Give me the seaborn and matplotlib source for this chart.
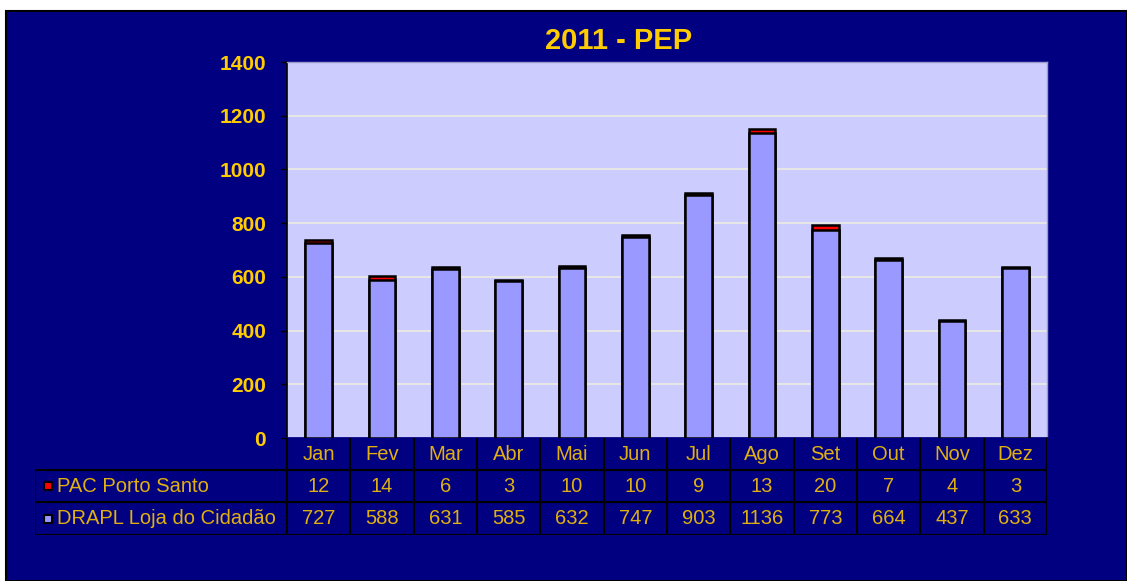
import numpy as np
import pandas as pd
import matplotlib
matplotlib.use("Agg")
import matplotlib.pyplot as plt
import seaborn as sns
from matplotlib.patches import Rectangle

months = ["Jan", "Fev", "Mar", "Abr", "Mai", "Jun", "Jul", "Ago", "Set", "Out", "Nov", "Dez"]
pac_porto_santo = [12, 14, 6, 3, 10, 10, 9, 13, 20, 7, 4, 3]
drapl_loja = [727, 588, 631, 585, 632, 747, 903, 1136, 773, 664, 437, 633]
series_names = ["PAC Porto Santo", "DRAPL Loja do Cidadão"]
title = "2011 - PEP"

NAVY = "#000080"
GOLD = "#FFCC00"
TXT = "#E0B010"
PLOT_BG = "#CCCCFF"
BAR = "#9999FF"
RED = "#FF0000"

sns.set_theme(style="white")
plt.rcParams["font.family"] = ["Liberation Sans", "DejaVu Sans"]

W, H = 1127, 581
fig = plt.figure(figsize=(W / 100, H / 100), dpi=100, facecolor="white")
bg = Rectangle((6 / W, 0), 1 - 6 / W, 1 - 11 / H, transform=fig.transFigure,
               facecolor=NAVY, edgecolor="black", linewidth=1.5, zorder=-10)
fig.patches.append(bg)

ax = fig.add_axes([287 / W, (H - 438) / H, 760 / W, 376 / H])
ax.set_facecolor(PLOT_BG)

df = pd.DataFrame({"month": months, "pac": pac_porto_santo, "drapl": drapl_loja})
df["total"] = df["pac"] + df["drapl"]

sns.barplot(data=df, x="month", y="total", color=RED, saturation=1, width=0.42,
            edgecolor="black", linewidth=1.8, ax=ax, zorder=3)
sns.barplot(data=df, x="month", y="drapl", color=BAR, saturation=1, width=0.42,
            edgecolor="black", linewidth=1.8, ax=ax, zorder=4)

ax.set_xlim(-0.5, len(months) - 0.5)
ax.set_ylim(0, 1400)
ax.set_yticks(np.arange(0, 1401, 200))
ax.yaxis.grid(True, color="#E6E6E6", linewidth=1.5, zorder=0)
ax.set_axisbelow(True)
ax.set_xlabel("")
ax.set_ylabel("")
ax.set_xticks([])
ax.tick_params(axis="y", colors="black", labelcolor=GOLD, labelsize=15, length=4,
               width=1, direction="out", left=True, pad=11)
for lab in ax.get_yticklabels():
    lab.set_fontweight("bold")
for s in ["top", "right"]:
    ax.spines[s].set_color("#9A9ACC")
    ax.spines[s].set_linewidth(1)
ax.spines["left"].set_color("black")
ax.spines["left"].set_linewidth(1.2)
ax.spines["bottom"].set_color(NAVY)
ax.spines["bottom"].set_linewidth(2)

fig.text(619 / W, (H - 41) / H, title, color=GOLD, fontsize=21,
         fontweight="bold", ha="center", va="center")

# data table
label_w = (287 - 35) / (760 / 12)
tax = fig.add_axes([35 / W, (H - 535) / H, 1012 / W, 97 / H])
tax.set_xlim(-0.5 - label_w, len(months) - 0.5)
tax.set_ylim(3, 0)
tax.axis("off")
tax.patch.set_alpha(0)
lc = "black"
lw = 1.5
x0 = -0.5 - label_w
xe = len(months) - 0.5
row_h = [0, 32 / 97 * 3, 64 / 97 * 3, 3]
for y in row_h[1:]:
    tax.plot([x0, xe], [y, y], color=lc, lw=lw, solid_capstyle="butt")
tax.plot([x0, x0], [row_h[1], 3], color=lc, lw=lw)
for i in range(len(months) + 1):
    tax.plot([i - 0.5, i - 0.5], [0, 3], color=lc, lw=lw)

fs = 14.5
px = 760 / 12
for i, m in enumerate(months):
    tax.text(i, (row_h[0] + row_h[1]) / 2, m, color=TXT, fontsize=fs, ha="center", va="center")
    tax.text(i, (row_h[1] + row_h[2]) / 2, str(pac_porto_santo[i]), color=TXT, fontsize=fs,
             ha="center", va="center")
    tax.text(i, (row_h[2] + row_h[3]) / 2, str(drapl_loja[i]), color=TXT, fontsize=fs,
             ha="center", va="center")

for r, (name, col) in enumerate(zip(series_names, [RED, BAR])):
    yc = (row_h[r + 1] + row_h[r + 2]) / 2
    tax.scatter([x0 + 13 / px], [yc], marker="s", s=40, color=col, edgecolor="black",
                linewidth=1.5, zorder=5)
    tax.text(x0 + 22 / px, yc, name, color=TXT, fontsize=fs, ha="left", va="center")

fig.savefig("out.png", dpi=100, facecolor=fig.get_facecolor())
